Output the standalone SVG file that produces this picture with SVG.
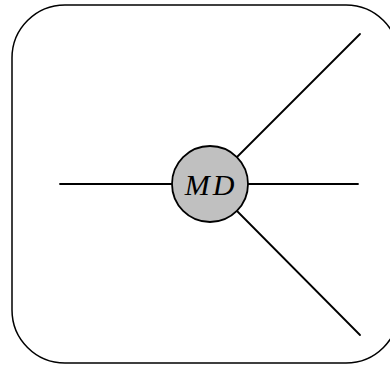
<svg xmlns="http://www.w3.org/2000/svg" width="390" height="365" viewBox="0 0 390 365">
<style>
.edge{stroke:#000;stroke-width:1.8;fill:none;stroke-linecap:round}
.frame{stroke:#000;stroke-width:1.5;fill:#fff}
.node{fill:#c0c0c0;stroke:#000;stroke-width:1.8}
.lbl{font-family:"Liberation Serif",serif;font-style:italic;fill:#000}
</style>
<rect class="frame" x="12" y="5" width="387" height="358" rx="53" ry="53"/>
<g id="connectors">
<line class="edge" x1="60" y1="184" x2="172" y2="184"/>
<line class="edge" x1="248" y1="184" x2="358" y2="184"/>
<line class="edge" x1="237" y1="157" x2="360" y2="34"/>
<line class="edge" x1="237" y1="211" x2="360" y2="335"/>
</g>
<g id="MD">
<circle class="node" cx="210" cy="184" r="38"/>
<text class="lbl" x="211" y="195" font-size="30" text-anchor="middle" letter-spacing="3">MD</text>
</g>
</svg>
